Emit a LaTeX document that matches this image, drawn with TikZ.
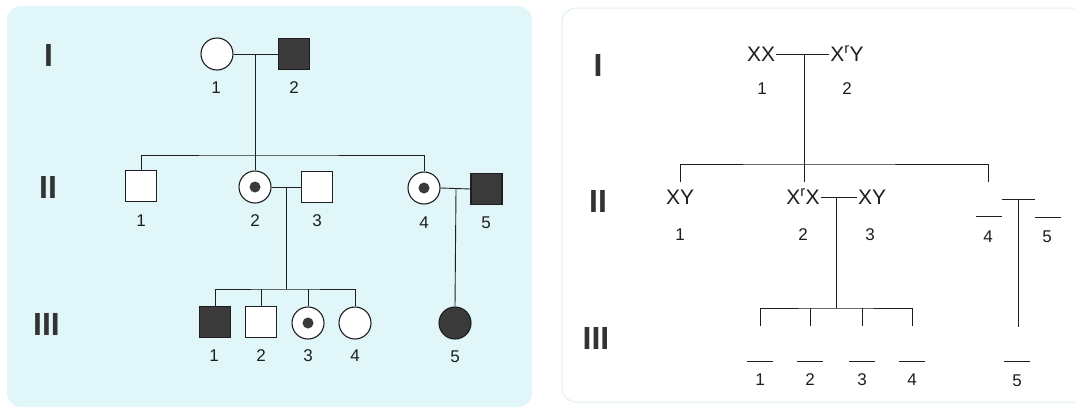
\documentclass[tikz,border=0pt]{standalone}
\usepackage{fontspec}
\setmainfont{Liberation Sans}
\usetikzlibrary{calc}
\definecolor{panelcyan}{RGB}{224,246,249}
\definecolor{panelrim}{RGB}{225,240,240}
\definecolor{darkfill}{RGB}{58,58,58}
\definecolor{inkline}{RGB}{30,30,30}
\tikzset{
  line/.style={draw=inkline, line width=0.9pt},
  male/.style={rectangle, draw=inkline, line width=1.1pt, minimum size=31pt, inner sep=0pt, fill=white},
  affmale/.style={male, fill=darkfill},
  female/.style={circle, draw=inkline, line width=1.1pt, minimum size=32pt, inner sep=0pt, fill=white},
  afffemale/.style={female, fill=darkfill},
  carrier/.style={female, path picture={\fill[darkfill] (path picture bounding box.center) circle (5.5pt);}},
  num/.style={font=\fontsize{17}{17}\selectfont, inner sep=0pt, text height=12.2pt, text depth=0pt, text=inkline},
  gen/.style={font=\fontsize{32}{32}\selectfont\bfseries, inner sep=0pt, text height=23pt, text depth=0pt, text=black!80},
  geno/.style={font=\fontsize{21}{21}\selectfont, inner sep=1pt, text height=15pt, text depth=0pt, text=inkline},
  blank/.style={rectangle, fill=inkline, minimum width=26pt, minimum height=1pt, inner sep=0pt},
}
\begin{document}
\begin{tikzpicture}[x=1pt,y=-1pt]
\useasboundingbox (0,0) rectangle (1075,410);
% panels
\fill[panelcyan, rounded corners=14pt] (7,6) rectangle (532,407);
\draw[panelrim, fill=white, line width=1pt, rounded corners=14pt] (562,8) rectangle (1095,402);

% ---------- left pedigree ----------
\node[gen] (gLI) at (48.5,55) {I};
\node[gen] (gLII) at (48,187) {II};
\node[gen] (gLIII) at (46.5,324) {III};

\node[female] (I1) at (217,54) {};
\node[affmale] (I2) at (294,54) {};
\node[male] (II1) at (141,186) {};
\node[carrier] (II2) at (255,187) {};
\node[male] (II3) at (317,187) {};
\node[carrier] (II4) at (424,188) {};
\node[affmale] (II5) at (486.5,189) {};
\node[affmale] (III1) at (215,322) {};
\node[male] (III2) at (261,322) {};
\node[carrier] (III3) at (308,323) {};
\node[female] (III4) at (355,323) {};
\node[afffemale] (III5) at (455,323) {};

\coordinate (mI) at (255,54);
\coordinate (sII) at (255,155);
\coordinate (mII23) at (286,187);
\coordinate (sIII) at (286,289);
\coordinate (mII45) at (456,189);

\draw[line] (I1.east) -- (I2.west);
\draw[line] (mI) -- (II2.north);
\draw[line] (II1.north) |- (sII) -| (II4.north);
\draw[line] (II2.east) -- (II3.west);
\draw[line] (II4.east) -- (II5.west);
\draw[line] (mII23) -- (sIII);
\draw[line] (III1.north) |- (sIII) -| (III4.north);
\draw[line] (III2.north) -- (III2.north |- sIII);
\draw[line] (III3.north) -- (III3.north |- sIII);
\draw[line] (mII45) -- (III5.north);

\node[num] (lI1) at (216,87) {1};
\node[num] (lI2) at (294,87) {2};
\node[num] (lII1) at (141,220) {1};
\node[num] (lII2) at (255,220) {2};
\node[num] (lII3) at (317,220) {3};
\node[num] (lII4) at (424,222) {4};
\node[num] (lII5) at (486,222) {5};
\node[num] (lIII1) at (214,355) {1};
\node[num] (lIII2) at (261,355) {2};
\node[num] (lIII3) at (308,355) {3};
\node[num] (lIII4) at (355,355) {4};
\node[num] (lIII5) at (455,356) {5};

% ---------- right pedigree ----------
\node[gen] (gRI) at (598,65) {I};
\node[gen] (gRII) at (598,201) {II};
\node[gen] (gRIII) at (596,338) {III};

\node[geno] (rI1) at (761,54) {XX};
\node[geno] (rI2) at (847,54) {X\textsuperscript{r}Y};
\node[geno] (rII1) at (680,197) {XY};
\node[geno] (rII2) at (803,197) {X\textsuperscript{r}X};
\node[geno] (rII3) at (872,197) {XY};

\node[blank] (rbII4) at (988.5,216) {};
\node[blank] (rbII5) at (1048,217) {};
\node[blank] (rbIII1) at (760,361) {};
\node[blank] (rbIII2) at (810,361) {};
\node[blank] (rbIII3) at (862,361) {};
\node[blank] (rbIII4) at (912,361) {};
\node[blank] (rbIII5) at (1017,361) {};

\coordinate (rmI) at (804,54);
\coordinate (rsII) at (804,164);
\coordinate (rdropII) at (0,182);
\coordinate (rmII) at (836,197);
\coordinate (rsIII) at (836,308);
\coordinate (rdropIII) at (0,326);
\coordinate (rmII45) at (1018,199);
\coordinate (rIII5top) at (1018,327);

\draw[line] (rI1.east) -- (rI2.west);
\draw[line] (rmI) -- (rmI |- rdropII);
\draw[line] (rII1.north |- rdropII) |- (rsII) -| (rbII4.north |- rdropII);
\draw[line] (rII2.east) -- (rII3.west);
\draw[line] (rmII) -- (rsIII);
\draw[line] (rbIII1.north |- rdropIII) |- (rsIII) -| (rbIII4.north |- rdropIII);
\draw[line] (rbIII2.north |- rsIII) -- (rbIII2.north |- rdropIII);
\draw[line] (rbIII3.north |- rsIII) -- (rbIII3.north |- rdropIII);
\draw[line] (rbII4.east |- rmII45) -- (rbII5.west |- rmII45);
\draw[line] (rmII45) -- (rIII5top);

\node[num] (rlI1) at (762,88) {1};
\node[num] (rlI2) at (847,88) {2};
\node[num] (rlII1) at (680,234) {1};
\node[num] (rlII2) at (803,234) {2};
\node[num] (rlII3) at (870,234) {3};
\node[num] (rlII4) at (988,236) {4};
\node[num] (rlII5) at (1047,236) {5};
\node[num] (rlIII1) at (760,379) {1};
\node[num] (rlIII2) at (810,379) {2};
\node[num] (rlIII3) at (862,379) {3};
\node[num] (rlIII4) at (912,379) {4};
\node[num] (rlIII5) at (1017,380) {5};
\end{tikzpicture}
\end{document}
